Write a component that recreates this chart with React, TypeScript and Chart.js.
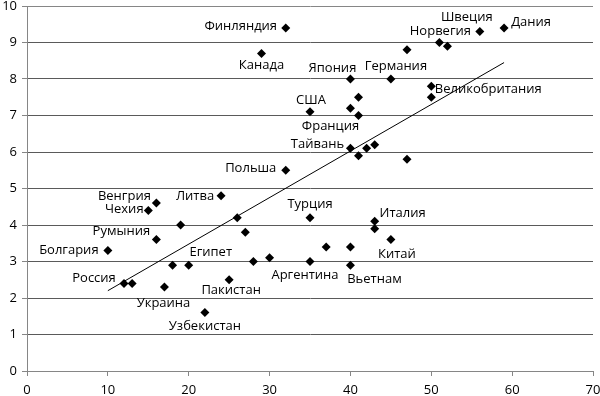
import React, { useEffect, useRef } from "react";
import { Chart, registerables } from "chart.js";

Chart.register(...registerables);

const countryX = [32, 29, 56, 59, 51, 52, 47, 40, 45, 50, 50, 41, 40, 35, 41, 40, 41, 42, 43, 47, 32, 24, 16, 15, 19, 26, 27, 16, 10, 18, 20, 28, 30, 12, 13, 17, 25, 22, 35, 43, 43, 45, 37, 40, 35, 40];
const countryY = [9.4, 8.7, 9.3, 9.4, 9.0, 8.9, 8.8, 8.0, 8.0, 7.8, 7.5, 7.5, 7.2, 7.1, 7.0, 6.1, 5.9, 6.1, 6.2, 5.8, 5.5, 4.8, 4.6, 4.4, 4.0, 4.2, 3.8, 3.6, 3.3, 2.9, 2.9, 3.0, 3.1, 2.4, 2.4, 2.3, 2.5, 1.6, 4.2, 4.1, 3.9, 3.6, 3.4, 3.4, 3.0, 2.9];
const countryNames = [
  "Финляндия", "Канада", "Швеция", "Дания", "Норвегия", "", "", "Япония", "Германия", "Великобритания",
  "", "", "", "США", "Франция", "Тайвань", "", "", "", "",
  "Польша", "Литва", "Венгрия", "Чехия", "", "", "", "Румыния", "Болгария", "",
  "Египет", "", "", "Россия", "", "Украина", "Пакистан", "Узбекистан", "Турция", "Италия",
  "", "Китай", "", "", "Аргентина", "Вьетнам",
];
const trendX = [10, 59];
const trendY = [2.2, 8.45];
const xTicks = [0, 10, 20, 30, 40, 50, 60, 70];
const yTicks = [0, 1, 2, 3, 4, 5, 6, 7, 8, 9, 10];

// label placement offsets in pixels (dx, dy) relative to each point
const labelOffsets: [number, number][] = [
  [-45, -2], [0, 12], [-13, -14], [27, -6], [1, -11], [0, 0], [0, 0], [-18, -11], [5, -13], [57, 3],
  [0, 0], [0, 0], [0, 0], [1, -12], [-28, 11], [-33, -4], [0, 0], [0, 0], [0, 0], [0, 0],
  [-35, -2], [-26, 0], [-32, -7], [-24, -1], [0, 0], [0, 0], [0, 0], [-35, -8], [-39, 0], [0, 0],
  [22, -13], [0, 0], [0, 0], [-30, -5], [0, 0], [-1, 16], [2, 11], [0, 14], [0, -13], [28, -8],
  [0, 0], [6, 15], [0, 0], [0, 0], [-5, 14], [24, 14],
];

const FONT = "'Open Sans', sans-serif";

const labelPlugin = {
  id: "pointLabels",
  afterDatasetsDraw(chart: any) {
    const meta = chart.getDatasetMeta(0);
    const ctx = chart.ctx;
    ctx.save();
    ctx.font = `13px ${FONT}`;
    ctx.fillStyle = "#000";
    ctx.textAlign = "center";
    ctx.textBaseline = "middle";
    meta.data.forEach((pt: any, i: number) => {
      const name = countryNames[i];
      if (!name) return;
      const [dx, dy] = labelOffsets[i];
      ctx.fillText(name, pt.x + dx, pt.y + dy);
    });
    ctx.restore();
  },
};

export default function App() {
  const ref = useRef<HTMLCanvasElement>(null);
  useEffect(() => {
    if (!ref.current) return;
    const chart = new Chart(ref.current, {
      type: "scatter",
      data: {
        datasets: [
          {
            type: "scatter",
            data: countryX.map((x, i) => ({ x, y: countryY[i] })),
            pointStyle: "rectRot",
            pointRadius: 4.5,
            pointBackgroundColor: "#000",
            pointBorderColor: "#000",
            pointBorderWidth: 0,
          },
          {
            type: "line",
            data: trendX.map((x, i) => ({ x, y: trendY[i] })),
            borderColor: "#000",
            borderWidth: 1,
            pointRadius: 0,
            fill: false,
          },
        ],
      },
      options: {
        animation: false,
        responsive: false,
        layout: { padding: { top: 6, right: 7, left: 0, bottom: 0 } },
        plugins: { legend: { display: false }, tooltip: { enabled: false } },
        scales: {
          x: {
            type: "linear",
            min: 0,
            max: 70,
            afterBuildTicks: (s: any) => { s.ticks = xTicks.map((v) => ({ value: v })); },
            afterFit: (s: any) => { s.height = 25; s.paddingLeft = 0; s.paddingRight = 0; s.paddingTop = 0; s.paddingBottom = 0; },
            grid: { drawOnChartArea: false, drawTicks: true, tickLength: 5, color: "#868686", tickColor: "#868686" },
            border: { color: "#868686", width: 1 },
            ticks: { color: "#000", font: { family: FONT, size: 13 }, padding: 6, maxRotation: 0 },
          },
          y: {
            type: "linear",
            min: 0,
            max: 10,
            afterBuildTicks: (s: any) => { s.ticks = yTicks.map((v) => ({ value: v })); },
            afterFit: (s: any) => { s.width = 27; s.paddingLeft = 0; s.paddingRight = 0; s.paddingTop = 0; s.paddingBottom = 0; },
            grid: {
              drawOnChartArea: true,
              drawTicks: true,
              tickLength: 5,
              color: (c: any) => (c.tick && c.tick.value === 10 ? "#868686" : "#5a5a5a"),
              tickColor: "#868686",
            },
            border: { color: "#868686", width: 1 },
            ticks: { color: "#000", font: { family: FONT, size: 13 }, padding: 5 },
          },
        },
      },
      plugins: [labelPlugin],
    } as any);
    return () => chart.destroy();
  }, []);
  return (
    <div style={{ position: "absolute", left: 0, top: 0, width: 600, height: 396, background: "#fff" }}>
      <canvas ref={ref} width={600} height={396} style={{ display: "block" }} />
    </div>
  );
}
